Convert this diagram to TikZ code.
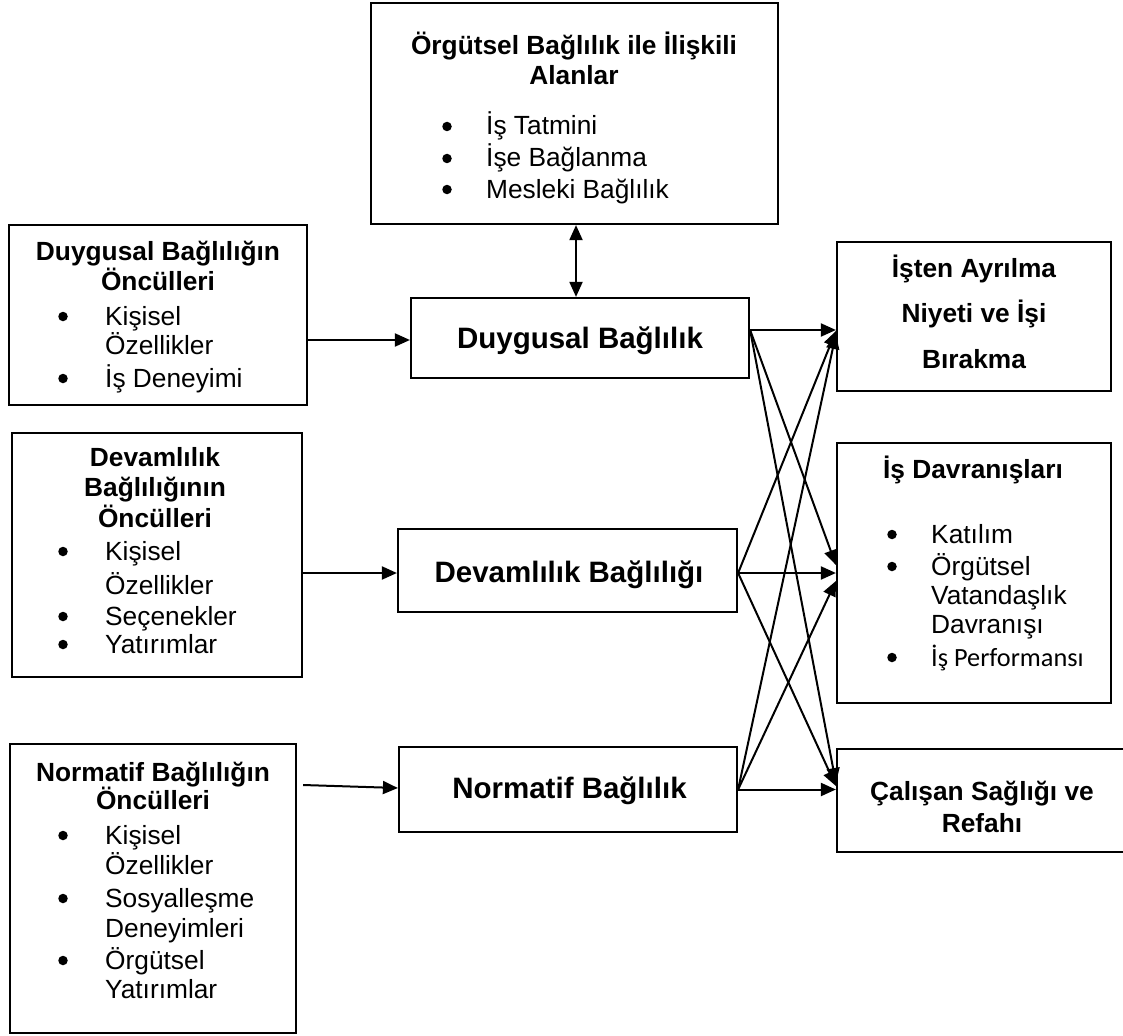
\documentclass[tikz,border=0pt]{standalone}
\usepackage{fontspec}
\setmainfont{Liberation Sans}
\newfontfamily\calibfont{Carlito}
\usetikzlibrary{arrows.meta}

\begin{document}
\begin{tikzpicture}[x=1pt,y=-1pt,
  box/.style={draw, line width=2.2pt, inner sep=0pt},
  hd/.style={anchor=base, inner sep=0pt, font=\bfseries\fontsize{26.3}{30}\selectfont},
  mainlbl/.style={anchor=base, inner sep=0pt, font=\bfseries\fontsize{29.5}{34}\selectfont},
  itm/.style={anchor=base west, inner sep=0pt, font=\fontsize{26.3}{30}\selectfont},
  % list bullet: a round dot set 8pt above the baseline of its line
  bul/.style={circle, fill=black, inner sep=0pt, minimum size=9.5pt, yshift=8.5pt},
  conn/.style={line width=2pt, -{Triangle[length=15pt,width=13pt]}},
  bothconn/.style={line width=2pt, {Triangle[length=15pt,width=13pt]}-{Triangle[length=15pt,width=13pt]}},
]
\useasboundingbox (0,0) rectangle (1123,1035);

% ---------- boxes ----------
\node[box, minimum width=298pt, minimum height=180pt] (a1) at (158,315) {};
\node[box, minimum width=290pt, minimum height=244pt] (a2) at (157,555) {};
\node[box, minimum width=286pt, minimum height=289pt] (a3) at (153,888.5) {};
\node[box, minimum width=407pt, minimum height=221pt] (top) at (574.5,113.5) {};
\node[box, minimum width=338pt, minimum height=80pt] (db) at (580,338) {};
\node[box, minimum width=339pt, minimum height=83pt] (dv) at (567.5,570.5) {};
\node[box, minimum width=338pt, minimum height=85pt] (nb) at (568,789.5) {};
\node[box, minimum width=274pt, minimum height=149pt] (r1) at (974,316.5) {};
\node[box, minimum width=274pt, minimum height=260pt] (r2) at (974,573) {};
\node[box, minimum width=290pt, minimum height=103pt] (r3) at (982,800.5) {};

% ---------- top box ----------
\node[hd] (t1) at (574,55) {Örgütsel Bağlılık ile İlişkili};
\node[hd] (t2) at (574,85) {Alanlar};
\node[bul] (tb1) at (447,135) {};
\node[itm] (ti1) at (486,135) {İş Tatmini};
\node[bul] (tb2) at (447,167) {};
\node[itm] (ti2) at (486,167) {İşe Bağlanma};
\node[bul] (tb3) at (447,198) {};
\node[itm] (ti3) at (486,198) {Mesleki Bağlılık};

% ---------- affective antecedents ----------
\node[hd] (a1h1) at (158,260) {Duygusal Bağlılığın};
\node[hd] (a1h2) at (158,290) {Öncülleri};
\node[bul] (a1b1) at (63,325) {};
\node[itm] (a1i1) at (105,325) {Kişisel};
\node[itm] (a1i2) at (105,354) {Özellikler};
\node[bul] (a1b2) at (63,387) {};
\node[itm] (a1i3) at (105,387) {İş Deneyimi};

% ---------- continuance antecedents ----------
\node[hd] (a2h1) at (155,466) {Devamlılık};
\node[hd] (a2h2) at (155,496) {Bağlılığının};
\node[hd] (a2h3) at (155,527) {Öncülleri};
\node[bul] (a2b1) at (63,560) {};
\node[itm] (a2i1) at (105,560) {Kişisel};
\node[itm] (a2i2) at (105,594) {Özellikler};
\node[bul] (a2b2) at (63,625) {};
\node[itm] (a2i3) at (105,625) {Seçenekler};
\node[bul] (a2b3) at (63,653) {};
\node[itm] (a2i4) at (105,653) {Yatırımlar};

% ---------- normative antecedents ----------
\node[hd] (a3h1) at (153,781) {Normatif Bağlılığın};
\node[hd] (a3h2) at (153,809) {Öncülleri};
\node[bul] (a3b1) at (63,844) {};
\node[itm] (a3i1) at (105,844) {Kişisel};
\node[itm] (a3i2) at (105,874) {Özellikler};
\node[bul] (a3b2) at (63,907) {};
\node[itm] (a3i3) at (105,907) {Sosyalleşme};
\node[itm] (a3i4) at (105,937) {Deneyimleri};
\node[bul] (a3b3) at (63,969) {};
\node[itm] (a3i5) at (105,969) {Örgütsel};
\node[itm] (a3i6) at (105,998) {Yatırımlar};

% ---------- commitment components ----------
\node[mainlbl] (dbt) at (580,348.5) {Duygusal Bağlılık};
\node[mainlbl] (dvt) at (569,582) {Devamlılık Bağlılığı};
\node[mainlbl] (nbt) at (569.5,798) {Normatif Bağlılık};

% ---------- outcomes ----------
\node[hd] (r1t1) at (974,277) {İşten Ayrılma};
\node[hd] (r1t2) at (974,322) {Niyeti ve İşi};
\node[hd] (r1t3) at (974,368) {Bırakma};

\node[hd] (r2h) at (973,478) {İş Davranışları};
\node[bul] (r2b1) at (892,543) {};
\node[itm] (r2i1) at (931,543) {Katılım};
\node[bul] (r2b2) at (892,575) {};
\node[itm] (r2i2) at (931,575) {Örgütsel};
\node[itm] (r2i3) at (931,604) {Vatandaşlık};
\node[itm] (r2i4) at (931,633) {Davranışı};
\node[bul] (r2b3) at (892,666) {};
\node[itm, font=\calibfont\fontsize{26.3}{30}\selectfont] (r2i5) at (931,666) {İş Performansı};

\node[hd] (r3t1) at (982,800) {Çalışan Sağlığı ve};
\node[hd] (r3t2) at (982,832) {Refahı};

% ---------- connectors ----------
\draw[conn] ([yshift=-25pt]a1.east) -- ([yshift=-2pt]db.west);
\draw[conn] ([yshift=-18pt]a2.east) -- ([yshift=-2.5pt]dv.west);
\draw[conn] ([xshift=6pt,yshift=103.5pt]a3.east) -- ([yshift=1.5pt]nb.west);
\draw[bothconn] ([xshift=1.5pt]top.south) -- ([xshift=-4pt]db.north);

% affective commitment -> outcomes
\draw[conn] ([yshift=8pt]db.east) -- ([yshift=-13.5pt]r1.west);
\draw[conn] ([yshift=8pt]db.east) -- ([yshift=8pt]r2.west);
\draw[conn] ([yshift=8pt]db.east) -- ([yshift=17.5pt]r3.west);
% continuance commitment -> outcomes
\draw[conn] ([yshift=-2.5pt]dv.east) -- ([yshift=-14.5pt]r1.west);
\draw[conn] ([yshift=-2.5pt]dv.east) -- (r2.west);
\draw[conn] ([yshift=-2.5pt]dv.east) -- ([yshift=14.5pt]r3.west);
% normative commitment -> outcomes
\draw[conn] (nb.east) -- ([yshift=-17.5pt]r1.west);
\draw[conn] (nb.east) -- ([yshift=-8pt]r2.west);
\draw[conn] (nb.east) -- ([yshift=11pt]r3.west);
\end{tikzpicture}
\end{document}
